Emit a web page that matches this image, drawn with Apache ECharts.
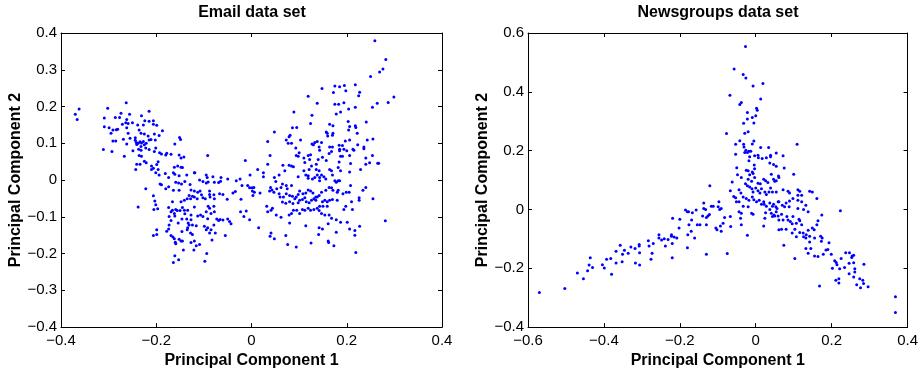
<!DOCTYPE html>
<html>
<head>
<meta charset="utf-8">
<script src="https://cdn.jsdelivr.net/npm/echarts@6/dist/echarts.min.js"></script>
<style>
html,body{margin:0;padding:0;background:#fff;}
#chart{width:921px;height:374px;}
</style>
</head>
<body>
<div id="chart"></div>
<script>
// ---------- data ----------
const emailTitle = 'Email data set';
const newsTitle = 'Newsgroups data set';
const xName = 'Principal Component 1';
const yName = 'Principal Component 2';

const emailXTicks = [-0.4, -0.2, 0, 0.2, 0.4];
const emailYTicks = [-0.4, -0.3, -0.2, -0.1, 0, 0.1, 0.2, 0.3, 0.4];
const newsXTicks = [-0.6, -0.4, -0.2, 0, 0.2, 0.4];
const newsYTicks = [-0.4, -0.2, 0, 0.2, 0.4, 0.6];

// Email data set: left cluster (upper part)
const emailLeftUpper = [
[-0.370,0.179],[-0.366,0.165],[-0.362,0.193],[-0.302,0.195],[-0.309,0.169],[-0.263,0.210],[-0.286,0.170],[-0.274,0.182],[-0.256,0.179],[-0.277,0.170],
[-0.309,0.145],[-0.299,0.142],[-0.291,0.136],[-0.284,0.137],[-0.281,0.138],[-0.295,0.127],[-0.291,0.106],[-0.285,0.106],[-0.271,0.152],[-0.264,0.156],
[-0.262,0.165],[-0.262,0.142],[-0.259,0.154],[-0.250,0.156],[-0.231,0.175],[-0.239,0.150],[-0.224,0.161],[-0.227,0.150],[-0.215,0.187],[-0.215,0.160],
[-0.206,0.161],[-0.206,0.152],[-0.199,0.149],[-0.187,0.134],[-0.236,0.136],[-0.232,0.127],[-0.259,0.127],[-0.255,0.114],[-0.269,0.111],[-0.262,0.098],
[-0.244,0.115],[-0.244,0.108],[-0.242,0.102],[-0.238,0.100],[-0.234,0.104],[-0.231,0.101],[-0.227,0.105],[-0.232,0.091],[-0.241,0.097],[-0.225,0.096],
[-0.221,0.100],[-0.215,0.109],[-0.211,0.110],[-0.202,0.109],[-0.225,0.125],[-0.217,0.120],[-0.204,0.125],[-0.194,0.121],[-0.311,0.083],[-0.293,0.078],
[-0.267,0.065],[-0.249,0.080],[-0.237,0.084],[-0.232,0.081],[-0.222,0.087],[-0.215,0.083],[-0.204,0.078],[-0.201,0.087],[-0.193,0.074],[-0.189,0.071],
[-0.180,0.068],[-0.178,0.073],[-0.169,0.070],[-0.161,0.098],[-0.151,0.116],[-0.149,0.110],[-0.152,0.068],[-0.148,0.060],[-0.142,0.063],[-0.092,0.067],
[-0.013,0.053],[-0.236,0.067],[-0.231,0.065],[-0.225,0.051],[-0.241,0.043],[-0.243,0.029],[-0.234,0.043],[-0.221,0.047],[-0.210,0.038],[-0.206,0.032],
[-0.199,0.042],[-0.196,0.050],[-0.196,0.029],[-0.210,0.029],[-0.162,0.035],[-0.155,0.038],[-0.148,0.035],[-0.145,0.034],[-0.119,0.020]
];
// Email data set: left cluster (lower part)
const emailLeftLower = [
[-0.201,0.020],[-0.194,0.014],[-0.181,0.018],[-0.174,0.007],[-0.164,0.020],[-0.161,0.016],[-0.152,0.012],[-0.136,0.014],[-0.120,0.020],[-0.109,0.000],
[-0.095,0.014],[-0.093,0.007],[-0.081,0.009],[-0.078,-0.006],[-0.064,0.007],[-0.024,0.003],[-0.003,0.014],[0.001,-0.021],[-0.192,-0.011],[-0.189,-0.013],
[-0.180,-0.024],[-0.174,-0.018],[-0.164,-0.028],[-0.159,-0.006],[-0.153,-0.008],[-0.147,-0.011],[-0.152,-0.028],[-0.140,-0.004],[-0.129,-0.012],[-0.127,-0.027],
[-0.120,-0.030],[-0.113,-0.033],[-0.108,-0.030],[-0.102,-0.004],[-0.095,-0.008],[-0.091,-0.005],[-0.088,-0.030],[-0.069,-0.007],[-0.065,-0.003],[-0.050,0.003],
[-0.032,-0.002],[-0.008,-0.015],[-0.004,-0.021],[0.005,-0.020],[-0.222,-0.024],[-0.238,-0.073],[-0.206,-0.043],[-0.203,-0.057],[-0.201,-0.067],[-0.205,-0.080],
[-0.197,-0.078],[-0.166,-0.059],[-0.148,-0.059],[-0.141,-0.055],[-0.135,-0.051],[-0.131,-0.042],[-0.128,-0.051],[-0.124,-0.044],[-0.120,-0.046],[-0.114,-0.051],
[-0.105,-0.040],[-0.102,-0.048],[-0.097,-0.051],[-0.088,-0.039],[-0.087,-0.046],[-0.079,-0.040],[-0.078,-0.051],[-0.067,-0.037],[-0.060,-0.039],[-0.051,-0.052],
[-0.039,-0.035],[-0.034,-0.031],[-0.022,-0.052],[0.002,-0.030],[-0.174,-0.075],[-0.169,-0.086],[-0.166,-0.082],[-0.162,-0.091],[-0.159,-0.080],[-0.156,-0.083],
[-0.150,-0.083],[-0.145,-0.075],[-0.141,-0.082],[-0.140,-0.092],[-0.134,-0.082],[-0.127,-0.095],[-0.120,-0.073],[-0.113,-0.098],[-0.107,-0.095],[-0.102,-0.099],
[-0.095,-0.086],[-0.091,-0.071],[-0.088,-0.077],[-0.085,-0.091],[-0.079,-0.071],[-0.078,-0.086],[-0.092,-0.105],[-0.073,-0.106],[-0.069,-0.110],[-0.066,-0.107],
[-0.060,-0.109],[-0.050,-0.106],[-0.046,-0.113],[-0.043,-0.119],[-0.023,-0.086],[-0.016,-0.099],[-0.011,-0.084],[-0.004,-0.108],[-0.173,-0.099],[-0.169,-0.110],
[-0.161,-0.098],[-0.154,-0.117],[-0.146,-0.106],[-0.136,-0.106],[-0.133,-0.117],[-0.127,-0.108],[-0.124,-0.122],[-0.116,-0.124],[-0.173,-0.122],[-0.178,-0.139],
[-0.174,-0.133],[-0.169,-0.151],[-0.165,-0.155],[-0.162,-0.160],[-0.160,-0.169],[-0.159,-0.173],[-0.152,-0.161],[-0.148,-0.166],[-0.146,-0.140],[-0.145,-0.166],
[-0.135,-0.135],[-0.134,-0.130],[-0.131,-0.122],[-0.128,-0.144],[-0.124,-0.148],[-0.127,-0.170],[-0.120,-0.166],[-0.116,-0.179],[-0.109,-0.175],[-0.099,-0.126],
[-0.095,-0.135],[-0.092,-0.130],[-0.088,-0.144],[-0.085,-0.135],[-0.079,-0.122],[-0.076,-0.144],[-0.083,-0.163],[-0.055,-0.151],[-0.206,-0.151],[-0.199,-0.148],
[-0.199,-0.135],[-0.143,-0.190],[-0.121,-0.190],[-0.094,-0.200],[-0.098,-0.221],[-0.161,-0.206],[-0.153,-0.217],[-0.164,-0.224]
];
// Email data set: right cluster (upper part)
const emailRightUpper = [
[0.259,0.379],[0.282,0.328],[0.276,0.302],[0.269,0.294],[0.250,0.282],[0.299,0.226],[0.287,0.211],[0.264,0.209],[0.254,0.198],[0.218,0.259],
[0.227,0.239],[0.225,0.229],[0.218,0.198],[0.198,0.243],[0.195,0.257],[0.185,0.254],[0.175,0.256],[0.172,0.238],[0.175,0.206],[0.183,0.206],
[0.194,0.210],[0.204,0.193],[0.187,0.185],[0.178,0.180],[0.148,0.249],[0.119,0.228],[0.138,0.209],[0.127,0.176],[0.089,0.185],[0.124,0.154],
[0.164,0.152],[0.171,0.148],[0.203,0.159],[0.206,0.146],[0.218,0.148],[0.219,0.143],[0.241,0.158],[0.204,0.136],[0.222,0.127],[0.157,0.131],
[0.159,0.127],[0.171,0.127],[0.170,0.122],[0.160,0.120],[0.086,0.142],[0.095,0.143],[0.048,0.131],[0.081,0.122],[0.079,0.118],[0.034,0.105],
[0.073,0.109],[0.077,0.100],[0.084,0.100],[0.103,0.109],[0.127,0.098],[0.133,0.102],[0.138,0.105],[0.147,0.102],[0.130,0.096],[0.142,0.090],
[0.143,0.081],[0.093,0.087],[0.100,0.074],[0.094,0.067],[0.098,0.065],[0.039,0.067],[0.119,0.067],[0.124,0.069],[0.110,0.060],[0.112,0.048],
[0.122,0.056],[0.126,0.038],[0.136,0.043],[0.140,0.056],[0.149,0.062],[0.157,0.053],[0.163,0.072],[0.164,0.090],[0.170,0.090],[0.168,0.078],
[0.184,0.095],[0.185,0.084],[0.185,0.080],[0.191,0.094],[0.194,0.084],[0.200,0.080],[0.187,0.065],[0.191,0.065],[0.184,0.049],[0.206,0.067],
[0.208,0.045],[0.197,0.106],[0.206,0.109],[0.215,0.081],[0.213,0.084],[0.223,0.096],[0.236,0.090],[0.236,0.085],[0.243,0.109],[0.255,0.112],
[0.240,0.060],[0.254,0.067],[0.248,0.047],[0.265,0.046],[0.267,0.046],[0.240,0.043],[0.013,0.029],[0.034,0.043],[0.025,0.020],[0.066,0.040],
[0.070,0.025],[0.079,0.040],[0.084,0.038],[0.088,0.036],[0.110,0.025],[0.121,0.029],[0.136,0.029],[0.142,0.025],[0.164,0.029],[0.168,0.025],
[0.182,0.034],[0.187,0.025],[0.206,0.022],[0.229,0.029]
];
// Email data set: right cluster (lower part)
const emailRightLower = [
[-0.020,-0.015],[0.006,-0.033],[0.003,-0.042],[0.018,-0.035],[0.025,0.009],[0.048,0.007],[0.058,0.014],[0.051,-0.004],[0.040,-0.020],[0.043,-0.027],
[0.038,-0.030],[0.047,-0.033],[0.053,-0.024],[0.058,-0.037],[0.062,-0.020],[0.065,-0.011],[0.073,-0.015],[0.075,-0.024],[0.084,-0.015],[0.098,0.009],
[0.114,0.014],[0.119,0.012],[0.119,0.005],[0.128,0.003],[0.133,0.007],[0.138,0.014],[0.143,0.007],[0.143,-0.002],[0.147,0.014],[0.152,0.009],
[0.156,0.003],[0.170,0.014],[0.175,-0.002],[0.178,-0.006],[0.182,-0.002],[0.185,-0.002],[0.208,-0.015],[0.199,-0.033],[0.205,-0.033],[0.192,-0.037],
[0.182,-0.028],[0.180,-0.033],[0.171,-0.028],[0.168,-0.021],[0.163,-0.020],[0.156,-0.028],[0.147,-0.033],[0.142,-0.042],[0.135,-0.046],[0.129,-0.035],
[0.124,-0.030],[0.119,-0.027],[0.114,-0.035],[0.108,-0.037],[0.101,-0.030],[0.098,-0.039],[0.094,-0.046],[0.086,-0.044],[0.080,-0.042],[0.073,-0.037],
[0.067,-0.046],[0.060,-0.046],[0.065,-0.060],[0.072,-0.063],[0.080,-0.059],[0.087,-0.064],[0.091,-0.051],[0.098,-0.062],[0.101,-0.055],[0.107,-0.053],
[0.112,-0.048],[0.115,-0.059],[0.121,-0.062],[0.126,-0.055],[0.131,-0.051],[0.135,-0.055],[0.138,-0.046],[0.149,-0.059],[0.154,-0.055],[0.159,-0.059],
[0.164,-0.055],[0.170,-0.053],[0.180,-0.055],[0.159,-0.071],[0.150,-0.071],[0.143,-0.071],[0.138,-0.077],[0.131,-0.080],[0.124,-0.082],[0.119,-0.077],
[0.112,-0.082],[0.107,-0.080],[0.101,-0.091],[0.095,-0.082],[0.088,-0.082],[0.084,-0.091],[0.079,-0.095],[0.062,-0.101],[0.052,-0.095],[0.044,-0.077],
[0.041,-0.082],[0.032,-0.071],[0.034,-0.086],[0.226,-0.048],[0.226,-0.055],[0.234,-0.028],[0.240,-0.020],[0.255,-0.051],[0.210,-0.059],[0.198,-0.071],
[0.194,-0.080],[0.212,-0.080],[0.142,-0.083],[0.147,-0.091],[0.154,-0.095],[0.163,-0.095],[0.168,-0.104],[0.178,-0.108],[0.201,-0.115],[0.187,-0.115],
[0.206,-0.133],[0.217,-0.137],[0.227,-0.126],[0.217,-0.150],[0.161,-0.119],[0.142,-0.130],[0.149,-0.133],[0.178,-0.142],[0.141,-0.148],[0.114,-0.124],
[0.080,-0.117],[0.015,-0.130],[0.041,-0.144],[0.039,-0.153],[0.048,-0.160],[0.072,-0.151],[0.076,-0.175],[0.094,-0.182],[0.125,-0.171],[0.161,-0.166],
[0.162,-0.170],[0.173,-0.179],[0.219,-0.197],[0.281,-0.111]
];

// Newsgroups data set: left arm
const newsLeftArm = [
[-0.570,-0.282],[-0.503,-0.269],[-0.470,-0.216],[-0.454,-0.236],[-0.443,-0.208],[-0.439,-0.189],[-0.436,-0.164],[-0.430,-0.197],[-0.404,-0.188],[-0.399,-0.199],
[-0.393,-0.169],[-0.382,-0.167],[-0.380,-0.220],[-0.368,-0.142],[-0.368,-0.182],[-0.357,-0.122],[-0.352,-0.178],[-0.351,-0.152],[-0.346,-0.139],[-0.336,-0.149],
[-0.329,-0.128],[-0.318,-0.133],[-0.317,-0.182],[-0.307,-0.119],[-0.307,-0.124],[-0.306,-0.147],[-0.306,-0.189],[-0.283,-0.106],[-0.281,-0.124],[-0.276,-0.169],
[-0.273,-0.149],[-0.270,-0.116],[-0.255,-0.086],[-0.255,-0.097],[-0.248,-0.104],[-0.241,-0.100],[-0.238,-0.124],[-0.231,-0.102],[-0.222,-0.086],[-0.222,-0.091],
[-0.220,-0.116],[-0.220,-0.164],[-0.219,-0.030],[-0.215,-0.094],[-0.208,-0.097],[-0.202,-0.063],[-0.200,-0.033],[-0.185,-0.002],[-0.180,-0.130],[-0.180,-0.008],
[-0.179,-0.086],[-0.177,-0.008],[-0.176,-0.052],[-0.170,-0.074],[-0.169,-0.036],[-0.167,-0.011],[-0.161,-0.097],[-0.157,-0.002],[-0.154,-0.052],[-0.147,-0.052],
[-0.140,-0.022],[-0.137,0.022],[-0.137,0.003],[-0.132,0.000],[-0.130,-0.027],[-0.130,-0.152],[-0.130,-0.052],[-0.126,-0.022],[-0.122,-0.017],[-0.121,0.081],
[-0.117,0.011],[-0.112,0.011]
];
// Newsgroups data set: upper arm
const newsUpperArm = [
[-0.027,0.554],[-0.057,0.478],[-0.033,0.459],[-0.026,0.447],[-0.007,0.420],[0.019,0.428],[-0.068,0.388],[-0.038,0.364],[-0.042,0.357],[0.013,0.376],
[0.002,0.344],[0.004,0.337],[-0.022,0.330],[0.000,0.319],[-0.009,0.313],[-0.022,0.308],[-0.032,0.293],[-0.005,0.294],[-0.077,0.258],[-0.029,0.259],
[-0.020,0.264],[-0.042,0.234],[-0.053,0.222],[-0.032,0.222],[-0.031,0.212],[-0.005,0.233],[-0.009,0.223],[0.013,0.211],[0.034,0.211],[0.109,0.222],
[-0.026,0.201],[-0.022,0.194],[-0.018,0.198],[-0.013,0.198],[-0.029,0.194],[-0.016,0.179],[-0.053,0.188],[-0.003,0.183],[0.006,0.184],[0.007,0.176],
[0.017,0.173],[0.028,0.176],[0.039,0.184],[0.039,0.179],[0.054,0.192],[0.072,0.183],[-0.018,0.166],[-0.004,0.151],[0.037,0.158],[0.047,0.153],
[0.054,0.147],[0.075,0.141],[-0.050,0.142],[-0.025,0.133],[-0.020,0.132],[-0.003,0.138],[-0.009,0.127]
];
// Newsgroups data set: centre and right arm
const newsRightArm = [
[-0.048,0.118],[-0.038,0.109],[-0.016,0.118],[-0.007,0.122],[-0.020,0.103],[-0.011,0.096],[-0.003,0.109],[-0.062,0.093],[0.006,0.089],[0.012,0.087],
[0.021,0.103],[0.026,0.098],[0.032,0.092],[0.041,0.120],[0.047,0.103],[0.050,0.096],[0.054,0.098],[0.060,0.114],[0.061,0.109],[0.100,0.120],
[-0.027,0.087],[-0.022,0.081],[-0.016,0.076],[-0.010,0.070],[-0.007,0.059],[0.000,0.073],[0.006,0.064],[0.011,0.056],[0.015,0.070],[0.024,0.059],
[0.028,0.051],[0.035,0.059],[0.039,0.073],[0.044,0.059],[0.054,0.059],[0.072,0.067],[0.085,0.062],[0.089,0.056],[0.111,0.067],[0.116,0.062],
[0.111,0.048],[0.121,0.048],[0.142,0.062],[0.149,0.059],[0.161,0.037],[-0.067,0.064],[-0.058,0.044],[-0.053,0.040],[-0.044,0.067],[-0.039,0.056],
[-0.033,0.042],[-0.025,0.037],[-0.018,0.031],[-0.009,0.042],[-0.005,0.033],[0.002,0.026],[0.009,0.031],[0.015,0.018],[0.021,0.026],[0.022,0.018],
[0.028,0.011],[0.037,0.022],[0.044,0.011],[0.047,0.018],[0.053,0.009],[0.059,0.026],[0.061,0.026],[0.056,0.003],[0.070,0.014],[0.076,0.009],
[0.080,0.022],[0.089,0.029],[0.088,0.009],[0.098,0.037],[0.111,0.031],[0.111,0.003],[0.121,0.026],[0.126,0.000],[0.132,0.014],[0.138,-0.008],
[0.054,-0.008],[0.048,-0.019],[0.044,-0.024],[0.050,-0.022],[0.059,-0.022],[0.061,-0.036],[0.068,-0.016],[0.072,-0.036],[0.082,-0.024],[0.085,-0.036],
[0.091,-0.041],[0.096,-0.049],[0.098,-0.024],[0.107,-0.047],[0.114,-0.033],[0.116,-0.038],[0.121,-0.052],[0.116,-0.078],[0.107,-0.093],[0.103,-0.067],
[0.096,-0.080],[0.080,-0.067],[0.068,-0.067],[0.061,-0.069],[0.074,-0.122],[0.103,-0.167],[0.125,-0.080],[0.126,-0.093],[0.132,-0.097],[0.133,-0.086],
[0.138,-0.071],[0.142,-0.091],[0.142,-0.111],[0.149,-0.063],[0.154,-0.069],[0.161,-0.052],[0.164,-0.038],[0.174,-0.019],[0.223,-0.004],[0.155,-0.097],
[0.171,-0.091],[0.175,-0.097],[0.173,-0.108],[0.132,-0.133],[0.138,-0.149],[0.145,-0.133],[0.155,-0.158],[0.164,-0.160],[0.178,-0.152],[0.185,-0.138],
[0.193,-0.113],[0.190,-0.136],[0.199,-0.152],[0.202,-0.200],[0.208,-0.174],[0.212,-0.180],[0.214,-0.188],[0.221,-0.202],[0.211,-0.241],[0.219,-0.236],
[0.219,-0.250],[0.225,-0.167],[0.234,-0.197],[0.237,-0.147],[0.246,-0.183],[0.247,-0.147],[0.253,-0.163],[0.254,-0.158],[0.258,-0.156],[0.258,-0.181],
[0.261,-0.202],[0.261,-0.213],[0.246,-0.219],[0.258,-0.230],[0.266,-0.256],[0.274,-0.236],[0.276,-0.266],[0.282,-0.241],[0.284,-0.252],[0.285,-0.186],
[0.296,-0.263],[0.168,-0.260],[0.368,-0.297],[0.368,-0.350],[-0.075,-0.150],[-0.105,-0.063],[-0.102,-0.069],[-0.093,-0.056],[-0.091,-0.074],[-0.086,-0.047],
[-0.097,0.026],[-0.099,0.009],[-0.095,0.000],[-0.091,0.003],[-0.082,-0.027],[-0.067,-0.024],[-0.066,-0.058],[-0.038,-0.052],[-0.040,-0.030],[-0.044,-0.008],
[-0.038,-0.013],[-0.022,-0.088],[-0.011,-0.013],[-0.007,-0.016],[0.021,-0.056],[0.024,-0.030],[0.026,-0.011],[0.037,0.000],[0.041,-0.013],[-0.033,0.011],
[-0.044,0.026],[-0.051,0.026],[-0.020,0.009]
];

// ---------- chart ----------
const FONT = 'Liberation Sans, Arial, Helvetica, sans-serif';
function fmt(v) {
  if (Math.abs(v) < 1e-9) return '0';
  return (v < 0 ? '\u2212' : '') + Math.abs(v).toFixed(1);
}
function step(t) { return Math.round((t[1] - t[0]) * 1000) / 1000; }

const grids = [
  {left: 61, top: 33, width: 381, height: 300},
  {left: 528, top: 33, width: 380, height: 300}
];

function xAxes(ticks, gi) {
  const base = {
    type: 'value', gridIndex: gi, min: ticks[0], max: ticks[ticks.length - 1], interval: step(ticks),
    splitLine: {show: false},
    axisLine: {show: true, onZero: false, lineStyle: {color: '#000', width: 1}},
    axisTick: {show: true, inside: true, length: 4, lineStyle: {color: '#000', width: 1}}
  };
  return [
    Object.assign({}, base, {
      position: 'bottom',
      name: xName, nameLocation: 'middle', nameGap: 20,
      nameTextStyle: {fontFamily: FONT, fontSize: 16, fontWeight: 'bold', color: '#000'},
      axisLabel: {show: true, margin: 6, formatter: fmt, fontFamily: FONT, fontSize: 15, color: '#000', showMinLabel: true, showMaxLabel: true}
    }),
    Object.assign({}, base, {position: 'top', axisLabel: {show: false}})
  ];
}
function yAxes(ticks, gi) {
  const base = {
    type: 'value', gridIndex: gi, min: ticks[0], max: ticks[ticks.length - 1], interval: step(ticks),
    splitLine: {show: false},
    axisLine: {show: true, onZero: false, lineStyle: {color: '#000', width: 1}},
    axisTick: {show: true, inside: true, length: 4, lineStyle: {color: '#000', width: 1}}
  };
  return [
    Object.assign({}, base, {
      position: 'left',
      name: yName, nameLocation: 'middle', nameGap: 36,
      nameTextStyle: {fontFamily: FONT, fontSize: 16, fontWeight: 'bold', color: '#000'},
      axisLabel: {show: true, margin: 4, formatter: fmt, fontFamily: FONT, fontSize: 15, color: '#000', showMinLabel: true, showMaxLabel: true}
    }),
    Object.assign({}, base, {position: 'right', axisLabel: {show: false}})
  ];
}

const dotStyle = {color: '#0000ff', opacity: 1};
function scatter(data, xi, yi) {
  return {type: 'scatter', xAxisIndex: xi, yAxisIndex: yi, data: data, symbol: 'circle', symbolSize: 3,
          itemStyle: dotStyle, silent: true, large: false};
}

const option = {
  animation: false,
  backgroundColor: '#ffffff',
  title: [
    {text: emailTitle, left: 252, top: 5, textAlign: 'center', padding: 0,
     textStyle: {fontFamily: FONT, fontSize: 16, fontWeight: 'bold', color: '#000'}},
    {text: newsTitle, left: 718, top: 5, textAlign: 'center', padding: 0,
     textStyle: {fontFamily: FONT, fontSize: 16, fontWeight: 'bold', color: '#000'}}
  ],
  grid: grids,
  xAxis: xAxes(emailXTicks, 0).concat(xAxes(newsXTicks, 1)),
  yAxis: yAxes(emailYTicks, 0).concat(yAxes(newsYTicks, 1)),
  series: [
    scatter(emailLeftUpper, 0, 0),
    scatter(emailLeftLower, 0, 0),
    scatter(emailRightUpper, 0, 0),
    scatter(emailRightLower, 0, 0),
    scatter(newsLeftArm, 2, 2),
    scatter(newsUpperArm, 2, 2),
    scatter(newsRightArm, 2, 2)
  ]
};

const chart = echarts.init(document.getElementById('chart'), null, {renderer: 'canvas'});
chart.setOption(option);
</script>
</body>
</html>
